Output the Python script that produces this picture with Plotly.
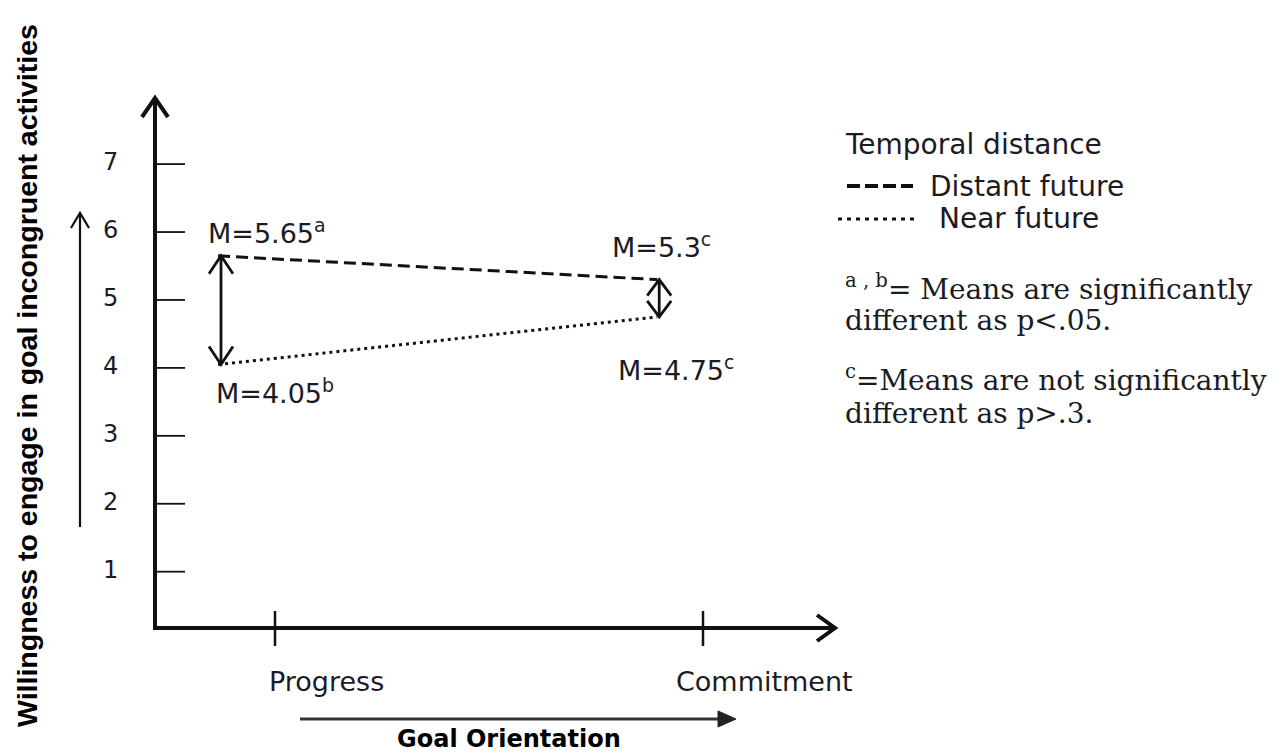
import plotly.graph_objects as go

# ---------------- data ----------------
goal_orientation = ["Progress", "Commitment"]
distant_future = [5.65, 5.30]
near_future = [4.05, 4.75]
distant_sup = ["a", "c"]
near_sup = ["b", "c"]
y_ticks = [1, 2, 3, 4, 5, 6, 7]

# ---------------- geometry helpers (reference pixel space) ----------------
W, H = 1286, 756
OFF = 8                    # page body margin
X_PX_PER_UNIT = 428.0      # px between category positions
X_CAT1_PX = 275.0
Y_PX_PER_UNIT = 67.93
Y4_PX = 367.9

x_range = [1 - (X_CAT1_PX - OFF) / X_PX_PER_UNIT,
           1 + (W - (X_CAT1_PX - OFF)) / X_PX_PER_UNIT]
y_range = [4 - (OFF + H - Y4_PX) / Y_PX_PER_UNIT,
           4 + (Y4_PX - OFF) / Y_PX_PER_UNIT]


def PX(x):
    return (x - OFF) / W


def PY(y):
    return 1 - (y - OFF) / H


cat_pos = [i + 1 for i in range(len(goal_orientation))]
start_shift, end_shift = -0.133, -0.107
line_x = [cat_pos[0] + start_shift, cat_pos[1] + end_shift]

INK = "#111111"
TXT = "#1b1b24"

fig = go.Figure()
fig.add_trace(go.Scatter(x=line_x, y=distant_future, mode="lines", name="Distant future",
                         line=dict(color=INK, width=3, dash="12px,6px"), hoverinfo="skip"))
fig.add_trace(go.Scatter(x=line_x, y=near_future, mode="lines", name="Near future",
                         line=dict(color=INK, width=3, dash="3px,4px"), hoverinfo="skip"))

shapes = []
ann = []


def pline(x0, y0, x1, y1, w=2, color=INK, dash=None):
    ln = dict(color=color, width=w)
    if dash:
        ln["dash"] = dash
    shapes.append(dict(type="line", xref="paper", yref="paper",
                       x0=PX(x0), y0=PY(y0), x1=PX(x1), y1=PY(y1), line=ln))


def ppath(points, w=2, color=INK, fill=None):
    d = "M " + " L ".join(f"{PX(a):.5f},{PY(b):.5f}" for a, b in points)
    if fill:
        d += " Z"
    shapes.append(dict(type="path", xref="paper", yref="paper", path=d,
                       line=dict(color=color, width=w),
                       fillcolor=fill if fill else "rgba(0,0,0,0)"))


def text(x, y, t, font, xanchor="center", yanchor="middle", **kw):
    ann.append(dict(xref="paper", yref="paper", x=PX(x), y=PY(y), text=t,
                    showarrow=False, xanchor=xanchor, yanchor=yanchor, font=font, **kw))


# main axes
pline(155, 630, 155, 98, w=4)
ppath([(142, 117), (155, 98), (168, 117)], w=4)
pline(153, 628, 835, 628, w=4)
ppath([(817, 615), (835, 628), (817, 641)], w=4)

# y ticks and labels (data y)
tick_font = dict(family="DejaVu Sans", size=24, color=TXT)
for v in y_ticks:
    shapes.append(dict(type="line", xref="paper", yref="y", x0=PX(155), x1=PX(185),
                       y0=v, y1=v, line=dict(color=INK, width=1.8)))
    ann.append(dict(xref="paper", yref="y", x=PX(110), y=v, yshift=2, text=str(v),
                    showarrow=False, xanchor="center", yanchor="middle", font=tick_font))

# x ticks and category labels
cat_font = dict(family="DejaVu Sans", size=27, color=TXT)
label_dx = [51, 61]
for i, name in enumerate(goal_orientation):
    xd = cat_pos[i]
    shapes.append(dict(type="line", xref="x", yref="paper", x0=xd, x1=xd,
                       y0=PY(611), y1=PY(646), line=dict(color=INK, width=2.5)))
    ann.append(dict(xref="x", yref="paper", x=xd + label_dx[i] / X_PX_PER_UNIT, y=PY(681),
                    text=name, showarrow=False, xanchor="center", yanchor="middle",
                    font=cat_font))


# double arrows between means
def double_arrow(xd, y_top, y_bot, arm_px=12, head_px=18, w=2.8):
    shapes.append(dict(type="line", xref="x", yref="y", x0=xd, x1=xd, y0=y_top, y1=y_bot,
                       line=dict(color=INK, width=w)))
    dx = arm_px / X_PX_PER_UNIT
    dy = head_px / Y_PX_PER_UNIT
    for tip, sgn in ((y_top, -1), (y_bot, 1)):
        d = f"M {xd-dx},{tip+sgn*dy} L {xd},{tip} L {xd+dx},{tip+sgn*dy}"
        shapes.append(dict(type="path", xref="x", yref="y", path=d,
                           line=dict(color=INK, width=w)))


double_arrow(cat_pos[0] + (221 - X_CAT1_PX) / X_PX_PER_UNIT, distant_future[0], near_future[0])
double_arrow(line_x[1] + 2 / X_PX_PER_UNIT, distant_future[1], near_future[1],
             arm_px=12, head_px=16)

# mean labels
lab_font = dict(family="DejaVu Sans", size=27, color=TXT)
text(206, 231, f"M={distant_future[0]:.2f}<sup>{distant_sup[0]}</sup>", lab_font, xanchor="left")
text(214, 391, f"M={near_future[0]:.2f}<sup>{near_sup[0]}</sup>", lab_font, xanchor="left")
text(610, 245, f"M={distant_future[1]:g}<sup>{distant_sup[1]}</sup>", lab_font, xanchor="left")
text(616, 369, f"M={near_future[1]:.2f}<sup>{near_sup[1]}</sup>", lab_font, xanchor="left")

# axis titles with arrows
text(27, 376, "<b>Willingness to engage in goal incongruent activities</b>",
     dict(family="Liberation Sans", size=28.5, color="#000000"), textangle=-90)
pline(80, 527, 80, 215, w=2.2)
ppath([(71, 228), (80, 213), (89, 228)], w=2.2)

text(509, 739, "<b>Goal Orientation</b>", dict(family="DejaVu Sans", size=24, color="#000000"))
pline(300, 719, 722, 719, w=3, color="#333333")
ppath([(718, 711), (736, 719), (718, 727)], w=1, color="#222222", fill="#222222")

# legend-like notes
leg_font = dict(family="DejaVu Sans", size=28, color=TXT)
text(843, 144, "Temporal distance", leg_font, xanchor="left")
pline(847, 186, 913, 186, w=4, dash="13px,5px")
text(928, 186, "Distant future", leg_font, xanchor="left")
pline(838, 219, 918, 219, w=3, dash="4px,5px")
text(937, 219, "Near future", leg_font, xanchor="left")

note_font = dict(family="DejaVu Serif", size=28, color=TXT)
notes = [
    (287, "<sup>a , b</sup>= Means are significantly"),
    (320, "different as p&lt;.05."),
    (379, "<sup>c</sup>=Means are not significantly"),
    (413, "different as p&gt;.3."),
]
for yy, t in notes:
    text(843, yy, t, note_font, xanchor="left")

fig.update_layout(
    width=W, height=H, margin=dict(l=0, r=0, t=0, b=0),
    paper_bgcolor="white", plot_bgcolor="white", showlegend=False,
    xaxis=dict(range=x_range, visible=False, fixedrange=True),
    yaxis=dict(range=y_range, visible=False, fixedrange=True),
    shapes=shapes, annotations=ann,
)
fig.write_html("out.html")
